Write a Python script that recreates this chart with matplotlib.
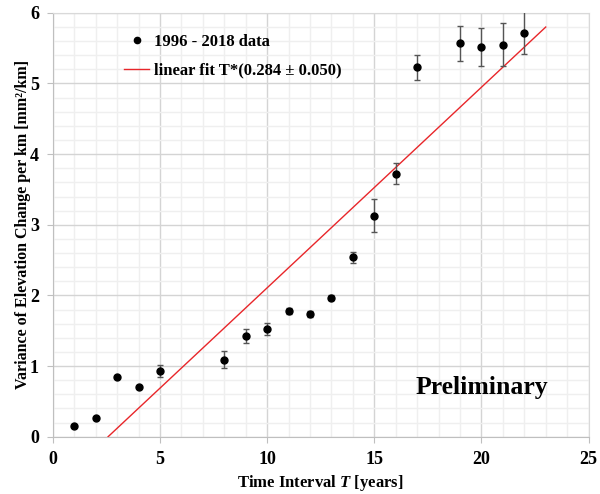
import matplotlib
matplotlib.use("Agg")
import matplotlib.pyplot as plt
import numpy as np
from matplotlib.ticker import MultipleLocator
from matplotlib.lines import Line2D

plt.rcParams['font.family'] = ['Liberation Serif', 'DejaVu Serif']
plt.rcParams['font.weight'] = 'bold'
plt.rcParams['mathtext.fontset'] = 'custom'
plt.rcParams['mathtext.rm'] = 'Liberation Serif:bold'
plt.rcParams['mathtext.it'] = 'Liberation Serif:bold:italic'
plt.rcParams['mathtext.bf'] = 'Liberation Serif:bold'

# data
T = [1, 2, 3, 4, 5, 8, 9, 10, 11, 12, 13, 14, 15, 16, 17, 19, 20, 21, 22]
var = [0.145, 0.27, 0.85, 0.71, 0.93, 1.09, 1.42, 1.525, 1.78, 1.74, 1.97,
       2.54, 3.13, 3.725, 5.23, 5.57, 5.52, 5.55, 5.72]
err = [0.0, 0.0, 0.0, 0.0, 0.09, 0.12, 0.10, 0.08, 0.04, 0.04, 0.03,
       0.08, 0.236, 0.145, 0.18, 0.245, 0.27, 0.30, 0.30]

fit_slope = 0.284
fit_offset = -0.733
fit_range = [2.58, 23]

fig = plt.figure(figsize=(6, 4.94), dpi=100)
ax = fig.add_axes([0.088, 0.116, 0.893, 0.858])

x = np.array(fit_range)
ax.plot(x, fit_slope * x + fit_offset, color='#e8262a', lw=1.0, zorder=3)
ax.errorbar(T, var, yerr=err, fmt='o', color='black', ms=5,
            ecolor='#555555', elinewidth=1.0, capsize=2.5, capthick=1.0,
            zorder=4)

ax.set_xlim(0, 25)
ax.set_ylim(0, 6)
ax.xaxis.set_major_locator(MultipleLocator(5))
ax.xaxis.set_minor_locator(MultipleLocator(1))
ax.yaxis.set_major_locator(MultipleLocator(1))
ax.yaxis.set_minor_locator(MultipleLocator(0.2))
ax.grid(which='major', color='#d4d4d4', lw=1.0)
ax.grid(which='minor', color='#efefef', lw=1.0)
ax.set_axisbelow(True)
for s in ax.spines.values():
    s.set_color('#d9d9d9')
ax.spines['left'].set_color('#bfbfbf')
ax.spines['bottom'].set_color('#bfbfbf')
ax.tick_params(which='major', length=4, color='#bfbfbf', labelsize=13, pad=6)
ax.tick_params(which='minor', length=0)

ax.set_xlabel('Time Interval $\\mathit{T}$ [years]', fontsize=12, fontweight='bold')
ax.set_ylabel('Variance of Elevation Change per km [mm\u00b2/km]',
              fontsize=11.5, fontweight='bold', labelpad=-1)

handles = [Line2D([], [], ls='none', marker='o', color='black', ms=4.5),
           Line2D([], [], color='#e8262a', lw=1.0)]
labels = ['1996 - 2018 data', 'linear fit T*(0.284 \u00b1 0.050)']
ax.legend(handles, labels, loc='upper left', bbox_to_anchor=(0.105, 0.985),
          frameon=False, fontsize=12, handlelength=1.5, handletextpad=0.3,
          labelspacing=0.75)

ax.text(0.925, 0.115, 'Preliminary', transform=ax.transAxes, ha='right',
        va='center', fontsize=18.5, fontweight='bold')

fig.savefig('out.png', dpi=100)
